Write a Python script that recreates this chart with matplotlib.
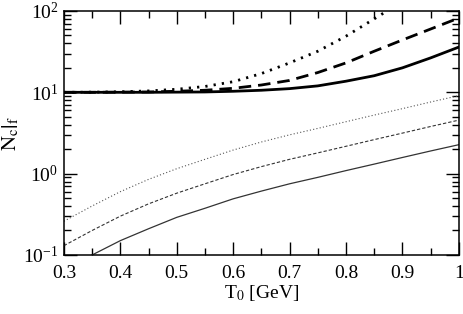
import matplotlib
matplotlib.use("Agg")
import matplotlib.pyplot as plt
from matplotlib.ticker import FixedLocator, LogLocator, NullFormatter
import numpy as np

plt.rcParams['font.family'] = ['Liberation Serif', 'DejaVu Serif']
plt.rcParams['mathtext.fontset'] = 'stix'

T0 = [0.30, 0.35, 0.40, 0.45, 0.50, 0.55, 0.60, 0.65, 0.70, 0.75, 0.80, 0.85, 0.90, 0.95, 1.00]

thick_solid = [10.0, 10.0, 10.0, 10.0, 10.05, 10.1, 10.3, 10.6, 11.1, 12.0, 13.7, 16.0, 20.0, 26.5, 36.0]
thick_dashed = [10.0, 10.0, 10.05, 10.1, 10.3, 10.6, 11.2, 12.3, 14.0, 17.5, 23.0, 32.0, 44.0, 60.0, 82.0]
thick_dotted = [10.0, 10.05, 10.15, 10.4, 10.9, 11.8, 13.5, 17.0, 23.0, 32.0, 49.0, 80.0, 131.0, 210.0, 330.0]

thin_dotted = [0.26, 0.40, 0.60, 0.85, 1.15, 1.50, 1.95, 2.45, 3.0, 3.6, 4.35, 5.25, 6.3, 7.6, 9.1]
thin_dashed = [0.13, 0.20, 0.30, 0.425, 0.575, 0.75, 0.975, 1.22, 1.5, 1.8, 2.17, 2.62, 3.15, 3.8, 4.55]
thin_solid = [0.065, 0.10, 0.15, 0.21, 0.29, 0.375, 0.49, 0.61, 0.75, 0.9, 1.09, 1.31, 1.58, 1.9, 2.27]

xticks = [0.3, 0.4, 0.5, 0.6, 0.7, 0.8, 0.9, 1.0]
xticklabels = ['0.3', '0.4', '0.5', '0.6', '0.7', '0.8', '0.9', '1']

fig = plt.figure(figsize=(4.63, 3.14), dpi=100)
ax = fig.add_axes([0.138, 0.188, 0.853, 0.777])

ax.plot(T0, thick_solid, color='black', lw=2.0, ls='-')
ax.plot(T0, thick_dashed, color='black', lw=2.0, ls=(0, (4.5, 2.5)))
ax.plot(T0, thick_dotted, color='black', lw=2.0, ls=(0, (0.8, 2.2)))

ax.plot(T0, thin_dotted, color='#555555', lw=0.8, ls=(0, (1, 2)))
ax.plot(T0, thin_dashed, color='#333333', lw=0.8, ls=(0, (3, 1.8)))
ax.plot(T0, thin_solid, color='#333333', lw=0.9, ls='-')

ax.set_yscale('log')
ax.set_xlim(0.3, 1.0)
ax.set_ylim(0.1, 100)

ax.xaxis.set_major_locator(FixedLocator(xticks))
ax.set_xticklabels(xticklabels)
ax.xaxis.set_minor_locator(FixedLocator(np.arange(0.35, 1.0, 0.1)))
ax.yaxis.set_major_locator(LogLocator(base=10, numticks=10))
ax.yaxis.set_minor_locator(LogLocator(base=10, subs=np.arange(2, 10), numticks=10))
ax.yaxis.set_minor_formatter(NullFormatter())

ax.tick_params(which='both', direction='in', top=True, right=True, labelsize=14)
ax.tick_params(which='major', length=9.5, width=1.0)
ax.tick_params(which='minor', length=5, width=1.0)
ax.tick_params(axis='x', pad=7)
ax.tick_params(axis='y', pad=4)
for s in ax.spines.values():
    s.set_linewidth(1.1)

ax.set_xlabel(r'T$_0$ [GeV]', fontsize=14, labelpad=1)
ax.set_ylabel(r'$\left.\mathrm{N}_\mathrm{c}\right|_\mathrm{f}$', fontsize=15, labelpad=1)

fig.savefig('out.png', dpi=100)
